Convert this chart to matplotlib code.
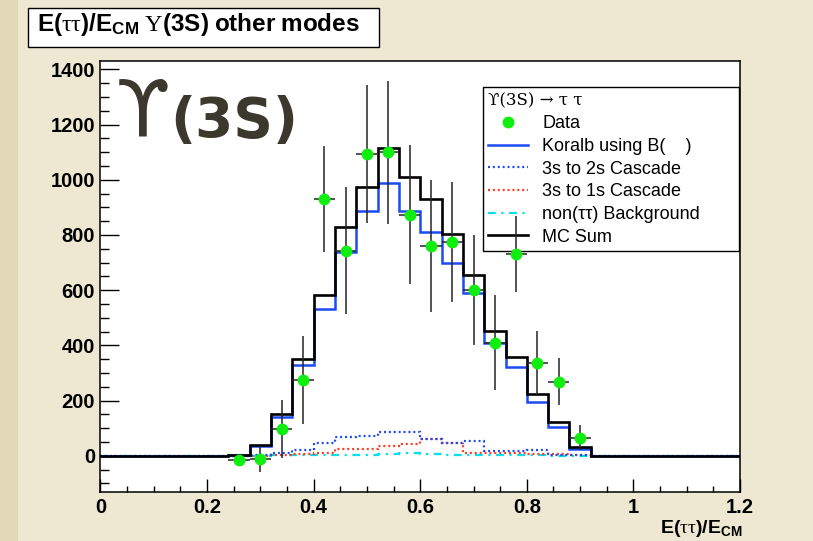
import numpy as np
import matplotlib
matplotlib.use("Agg")
import matplotlib.pyplot as plt
from matplotlib.lines import Line2D
from matplotlib.patches import Rectangle
from matplotlib.ticker import MultipleLocator, FixedLocator, FixedFormatter

plt.rcParams["font.family"] = ["Liberation Sans", "DejaVu Sans"]
plt.rcParams["mathtext.fontset"] = "custom"
plt.rcParams["mathtext.bf"] = "Liberation Sans:bold"
plt.rcParams["mathtext.rm"] = "Liberation Serif"
plt.rcParams["mathtext.it"] = "Liberation Serif:italic"
plt.rcParams["mathtext.sf"] = "Liberation Sans"
plt.rcParams["mathtext.default"] = "rm"
plt.rcParams["mathtext.fallback"] = "stix"

# ---- histogram binning: 0.04-wide bins, filled between 0.24 and 0.92 ----
bin_width = 0.04
first_edge = 0.24
# per-bin contents for the 17 filled bins (0.24 ... 0.92)
mc_sum = [4, 40, 152, 351, 582, 828, 974, 1116, 1010, 930, 803, 655, 452, 358, 224, 122, 31]
koralb = [3, 36, 142, 329, 531, 738, 887, 990, 887, 809, 699, 589, 408, 323, 196, 105, 25]
cascade_2s = [1, 2, 12, 20, 47, 69, 72, 86, 86, 62, 48, 55, 16, 16, 22, 4, 2]
cascade_1s = [0, 1, 3, 5, 11, 26, 26, 34, 42, 62, 48, 12, 12, 10, 8, 6, 3]
background = [0, 1, 2, 3, 3, 2, 3, 5, 10, 6, 4, 3, 4, 3, 2, 1, 1]

data_y = [-16, -12, 97, 275, 930, 742, 1092, 1099, 874, 760, 774, 600, 410, 730, 335, 269, 66]
data_err = [6, 47, 104, 160, 193, 230, 250, 258, 251, 240, 217, 199, 172, 138, 117, 85, 44]

x_tick_values = [0, 0.2, 0.4, 0.6, 0.8, 1.0, 1.2]
x_tick_labels = ["0", "0.2", "0.4", "0.6", "0.8", "1", "1.2"]
y_tick_values = [0, 200, 400, 600, 800, 1000, 1200, 1400]

legend_labels = ["Data", "Koralb using B(    )", "3s to 2s Cascade",
                 "3s to 1s Cascade", "non(\u03c4\u03c4) Background", "MC Sum"]

# full axis binning 0 ... 1.2 with empty bins outside the filled range
edges = np.round(np.arange(0.0, 1.2 + 1e-9, bin_width), 2)
nbins = len(edges) - 1
start = int(round(first_edge / bin_width))


def full(values):
    out = np.zeros(nbins)
    out[start:start + len(values)] = values
    return out


centers = edges[start:start + len(data_y)] + bin_width / 2

# ---- figure ----
fig = plt.figure(figsize=(8.13, 5.41), dpi=100, facecolor="#eee7d1")
fig.patches.append(Rectangle((0, 0), 18 / 813, 1, transform=fig.transFigure,
                             facecolor="#e2d9b8", edgecolor="none", zorder=-5))

ax = fig.add_axes([0.1236, 0.0911, 0.7866, 0.7961])
ax.set_facecolor("white")

c_blue = "#1b4bf5"
c_red = "#ff3b1f"
c_cyan = "#00e0ee"

ax.stairs(full(background), edges, color=c_cyan, lw=1.6,
          linestyle=(0, (3.5, 2.5, 1, 2.5)), baseline=None, zorder=2)
ax.stairs(full(cascade_1s), edges, color=c_red, lw=1.6,
          linestyle=(0, (0.9, 1.3)), baseline=None, zorder=2.1)
ax.stairs(full(cascade_2s), edges, color=c_blue, lw=1.6,
          linestyle=(0, (0.9, 1.3)), baseline=None, zorder=2.2)
ax.stairs(full(koralb), edges, color=c_blue, lw=1.8, baseline=None, zorder=2.5)
ax.stairs(full(mc_sum), edges, color="black", lw=1.9, baseline=None, zorder=3)

ax.errorbar(centers, data_y, yerr=data_err, xerr=bin_width / 2, fmt="o",
            color="#10ee10", mec="#10ee10", ms=7.5, ecolor="#252525",
            elinewidth=1.1, capsize=0, zorder=6)

ax.set_xlim(0, 1.2)
ax.set_ylim(-130, 1430)

ax.xaxis.set_major_locator(FixedLocator(x_tick_values))
ax.xaxis.set_major_formatter(FixedFormatter(x_tick_labels))
ax.xaxis.set_minor_locator(MultipleLocator(0.05))
ax.yaxis.set_major_locator(FixedLocator(y_tick_values))
ax.yaxis.set_minor_locator(MultipleLocator(50))

ax.tick_params(which="both", direction="in", width=1.0, top=False, right=False)
ax.tick_params(axis="x", which="major", length=9.5, pad=4.5)
ax.tick_params(axis="x", which="minor", length=4.5)
ax.tick_params(axis="y", which="major", length=13.5, pad=4)
ax.tick_params(axis="y", which="minor", length=6.5)
for lab in ax.get_xticklabels() + ax.get_yticklabels():
    lab.set_fontsize(14.5)
    lab.set_fontweight("bold")
for sp in ax.spines.values():
    sp.set_linewidth(1.1)

# big label in the upper left
ax.text(116 / 813, 1 - 136 / 541, "\u03d2", transform=fig.transFigure,
        fontsize=56, family=["DejaVu Sans"], color="#3b382d",
        ha="left", va="baseline", zorder=1)
ax.text(170 / 813, 1 - 137 / 541, "(3S)", transform=fig.transFigure,
        fontsize=39.5, family=["DejaVu Sans"], fontweight="bold", color="#3b382d",
        ha="left", va="baseline", zorder=1)

# legend
handles = [
    Line2D([], [], ls="none", marker="o", color="#10ee10", ms=7.5),
    Line2D([], [], color=c_blue, lw=1.8),
    Line2D([], [], color=c_blue, lw=1.6, ls=(0, (0.9, 1.3))),
    Line2D([], [], color=c_red, lw=1.6, ls=(0, (0.9, 1.3))),
    Line2D([], [], color=c_cyan, lw=1.6, ls=(0, (3.5, 2.5, 1, 2.5))),
    Line2D([], [], color="black", lw=1.9),
]
leg = ax.legend(handles, legend_labels, loc="upper left",
                bbox_to_anchor=(0.598, 0.5565, 0.4, 0.383), mode="expand",
                borderaxespad=0, fontsize=13, handlelength=2.2,
                handletextpad=0.8, labelspacing=0.315, borderpad=0.3,
                frameon=True, fancybox=False, framealpha=1, edgecolor="black",
                title="\u03d2(3S) \u2192 \u03c4 \u03c4", alignment="left",
                title_fontproperties={"family": ["DejaVu Serif"], "size": 12})
leg.get_frame().set_linewidth(1.0)
leg.set_zorder(5)

# title box
fig.patches.append(Rectangle((28 / 813, 1 - 47 / 541), 351 / 813, 39 / 541,
                             transform=fig.transFigure, facecolor="white",
                             edgecolor="black", lw=1.0, zorder=1))
fig.text(37 / 813, 1 - 31 / 541,
         r"$\mathbf{E(}\tau\tau\mathbf{)/E_{CM}}\ \Upsilon\mathbf{(3S)\ other\ modes}$",
         fontsize=17.5, ha="left", va="baseline", zorder=2)

# x-axis title at the right end
fig.text(742 / 813, 1 - 533 / 541, r"$\mathbf{E(}\tau\tau\mathbf{)/E_{CM}}$",
         fontsize=14, ha="right", va="baseline")

fig.savefig("out.png", dpi=100, facecolor=fig.get_facecolor())
